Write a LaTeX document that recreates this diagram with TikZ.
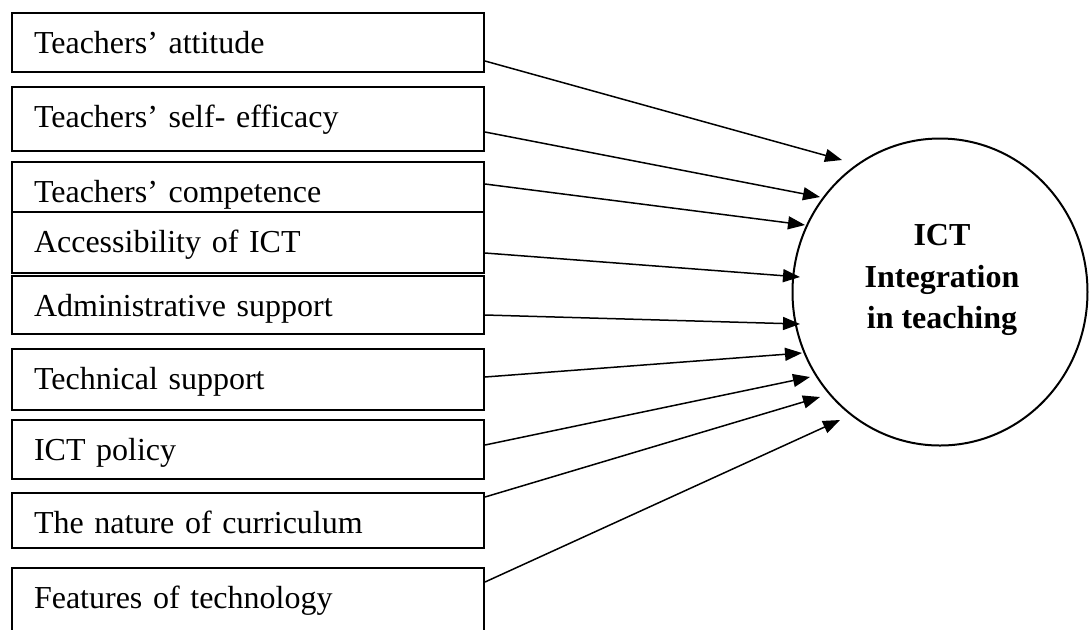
\documentclass[tikz,border=0pt]{standalone}
\usepackage{fontspec}
\setmainfont{Liberation Serif}
\usetikzlibrary{arrows.meta,shapes.geometric,positioning}

\begin{document}
\begin{tikzpicture}[x=0.5pt,y=-0.5pt,
	factor/.style={draw, line width=1pt, anchor=north west, inner xsep=11pt, inner ysep=0pt,
		text width=214pt, align=left, text height=20pt, font=\fontsize{16pt}{20.5pt}\selectfont},
	goal/.style={ellipse, draw, line width=1pt, minimum width=147.5pt, minimum height=153.5pt, inner sep=0pt},
	influence/.style={-{Triangle[length=8.5pt,width=6.5pt]}, line width=0.75pt}]
	\useasboundingbox (0,0) rectangle (1089,629);
	% Knoten
		\node (b1) at (11,12) [factor, text depth=9.5pt] {Teachers’ attitude};
		\node (b2) at (11,86) [factor, text depth=12pt] {Teachers’ self- efficacy};
		\node (b3) at (11,161) [factor, text depth=5pt] {Teachers’ competence};
		\node (b4) at (11,211) [factor, text depth=10.5pt] {Accessibility of ICT};
		\node (b5) at (11,275) [factor, text depth=9pt] {Administrative support};
		\node (b6) at (11,348) [factor, text depth=10.5pt] {Technical support};
		\node (b7) at (11,419) [factor, text depth=9.5pt] {ICT policy};
		\node (b8) at (11,492) [factor, text depth=7.5pt] {The nature of curriculum};
		\node (b9) at (11,567) [factor, text depth=20pt] {Features of technology};
		\node (ict) at (940,292) [goal] {};
		\node (icttext) at (942,280) [align=center, font=\fontsize{16pt}{20.75pt}\selectfont\bfseries] {ICT\\Integration\\in teaching};
	% Pfeilspitzen
		\coordinate (t1) at (842,160);
		\coordinate (t2) at (820,197);
		\coordinate (t3) at (805,225);
		\coordinate (t4) at (800,277);
		\coordinate (t5) at (800,324);
		\coordinate (t6) at (802,353);
		\coordinate (t7) at (810,377);
		\coordinate (t8) at (820,397);
		\coordinate (t9) at (840,420);
	% Kanten
		\draw[influence] ([yshift=-24.5pt]b1.north east) -- (t1);
		\draw[influence] ([yshift=-23pt]b2.north east) -- (t2);
		\draw[influence] ([yshift=-11.5pt]b3.north east) -- (t3);
		\draw[influence] ([yshift=-21pt]b4.north east) -- (t4);
		\draw[influence] ([yshift=-20pt]b5.north east) -- (t5);
		\draw[influence] ([yshift=-14.5pt]b6.north east) -- (t6);
		\draw[influence] ([yshift=-13pt]b7.north east) -- (t7);
		\draw[influence] ([yshift=-2.5pt]b8.north east) -- (t8);
		\draw[influence] ([yshift=-7.5pt]b9.north east) -- (t9);
\end{tikzpicture}
\end{document}
